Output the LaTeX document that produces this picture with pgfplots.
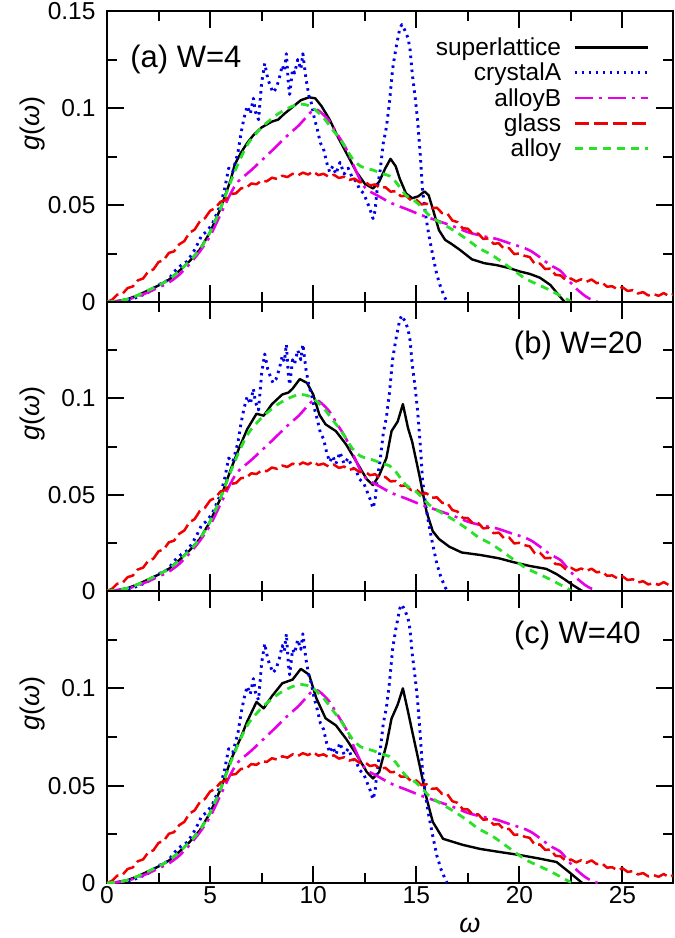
\documentclass[border=0pt]{standalone}
\usepackage{fontspec}
\setmainfont{Liberation Sans}
\usepackage{pgfplots}
\pgfplotsset{compat=1.18}
\usepackage{pgfplotstable}

\definecolor{cblue}{RGB}{0,0,235}
\definecolor{cmag}{RGB}{230,0,230}
\definecolor{cred}{RGB}{240,0,0}
\definecolor{cgreen}{RGB}{40,225,40}

\pgfplotstableread{
x y
0 0
0.5 0.0005
1 0.0015
1.5 0.0035
2 0.006
2.5 0.0085
3 0.0115
3.5 0.016
4 0.021
4.5 0.027
5 0.036
5.5 0.048
6 0.063
6.2 0.071
6.5 0.077
6.8 0.082
7.1 0.086
7.5 0.090
8 0.093
8.3 0.094
8.6 0.097
9 0.1005
9.4 0.104
9.8 0.1055
10.1 0.105
10.4 0.101
10.8 0.094
11.2 0.085
11.6 0.077
12.1 0.067
12.5 0.061
12.9 0.0585
13.2 0.062
13.5 0.069
13.75 0.0738
14.0 0.070
14.2 0.0635
14.5 0.056
14.8 0.0535
15.1 0.0545
15.4 0.057
15.6 0.055
15.8 0.048
16.1 0.037
16.4 0.032
16.7 0.030
17.1 0.027
17.7 0.022
18.3 0.020
18.9 0.019
19.5 0.0175
20 0.0158
20.5 0.0145
21 0.0125
21.5 0.0088
21.9 0.0036
22.2 0
}\slA

\pgfplotstableread{
x y
0 0
0.5 0.0005
1 0.0015
1.5 0.0035
2 0.006
2.5 0.0085
3 0.0115
3.5 0.016
4 0.021
4.5 0.027
5 0.036
5.5 0.048
6 0.063
6.4 0.074
6.8 0.084
7.25 0.092
7.6 0.091
8 0.097
8.5 0.102
8.8 0.103
9.0 0.105
9.35 0.110
9.7 0.108
10.0 0.102
10.3 0.0915
10.6 0.0865
11.1 0.083
11.6 0.076
12.1 0.067
12.6 0.058
12.9 0.055
13.2 0.060
13.55 0.069
13.8 0.083
14.1 0.088
14.35 0.097
14.6 0.0845
14.8 0.0775
15.15 0.060
15.5 0.041
15.8 0.031
16.1 0.027
16.6 0.023
17.2 0.020
18.1 0.0187
19 0.017
19.7 0.015
20.5 0.013
21.3 0.0115
21.8 0.0088
22.2 0.006
22.6 0.003
23.05 0
}\slB

\pgfplotstableread{
x y
0 0
0.5 0.0005
1 0.0015
1.5 0.0035
2 0.006
2.5 0.0085
3 0.0115
3.5 0.016
4 0.021
4.5 0.027
5 0.036
5.5 0.048
6 0.063
6.5 0.075
6.8 0.083
7.25 0.093
7.6 0.0897
8 0.096
8.5 0.1026
9.0 0.1045
9.4 0.110
9.8 0.107
10.15 0.095
10.6 0.0846
11.1 0.081
11.6 0.074
12.1 0.066
12.6 0.057
12.9 0.0537
13.2 0.057
13.55 0.071
13.8 0.0845
14.1 0.0917
14.35 0.100
14.6 0.088
14.8 0.078
15.15 0.061
15.5 0.0435
15.8 0.0314
16.3 0.0227
17.25 0.0196
18.1 0.0175
19 0.016
20 0.0144
21 0.0125
21.8 0.0108
22.4 0.0057
23.05 0
}\slC

\pgfplotstableread{
x y
0 0
0.5 0.0003
1 0.001
1.5 0.0025
2 0.005
2.5 0.009
2.8 0.010
3.0 0.012
3.3 0.016
3.6 0.019
3.9 0.021
4.2 0.026
4.4 0.030
4.6 0.0345
4.8 0.036
5.1 0.040
5.3 0.045
5.5 0.050
5.7 0.058
5.9 0.069
6.1 0.067
6.35 0.077
6.5 0.087
6.65 0.095
6.8 0.101
6.95 0.097
7.1 0.105
7.2 0.098
7.35 0.094
7.5 0.113
7.65 0.123
7.8 0.115
7.9 0.112
8.05 0.108
8.2 0.110
8.35 0.115
8.5 0.122
8.6 0.119
8.7 0.128
8.8 0.112
8.86 0.107
9.0 0.120
9.1 0.118
9.25 0.125
9.4 0.120
9.5 0.128
9.65 0.115
9.8 0.106
9.9 0.103
10.05 0.095
10.2 0.089
10.35 0.082
10.5 0.079
10.65 0.072
10.8 0.067
10.95 0.070
11.1 0.066
11.3 0.072
11.5 0.066
11.7 0.069
11.9 0.064
12.1 0.062
12.25 0.058
12.45 0.056
12.6 0.052
12.75 0.048
12.9 0.043
13.0 0.047
13.1 0.058
13.25 0.068
13.4 0.082
13.55 0.090
13.7 0.103
13.85 0.120
14.0 0.130
14.2 0.141
14.3 0.143
14.45 0.140
14.6 0.136
14.7 0.130
14.8 0.118
14.95 0.105
15.06 0.094
15.2 0.075
15.3 0.058
15.45 0.045
15.6 0.035
15.8 0.024
16.0 0.014
16.2 0.007
16.4 0.002
16.5 0
}\crystalA

\pgfplotstableread{
x y
0 0
0.5 0.0004
1 0.0012
1.5 0.003
2 0.005
2.5 0.0075
3 0.010
3.5 0.014
4 0.0195
4.5 0.026
5 0.034
5.5 0.045
6 0.056
6.35 0.062
7 0.068
7.5 0.073
8 0.078
8.77 0.086
9.3 0.091
9.9 0.098
10.2 0.099
10.5 0.0965
10.8 0.093
11.2 0.086
11.6 0.079
12.25 0.0635
12.6 0.058
13.1 0.055
13.6 0.052
14.0 0.050
14.5 0.048
15.2 0.045
16 0.042
16.8 0.039
17.5 0.036
18.2 0.034
18.9 0.0325
19.6 0.030
20.2 0.028
20.6 0.026
21 0.023
21.5 0.019
22 0.016
22.4 0.011
22.8 0.0065
23.2 0.003
23.5 0.0012
23.8 0
}\alloyB

\pgfplotstableread{
x y
0 0
0.25 0.0012
0.5 0.0038
0.75 0.0042
1 0.0072
1.25 0.0080
1.5 0.0112
1.75 0.0121
2 0.0157
2.25 0.0168
2.5 0.0206
2.75 0.0216
3 0.0253
3.25 0.0261
3.5 0.0297
3.75 0.0314
4 0.0357
4.25 0.0373
4.5 0.0415
4.75 0.0432
5 0.0470
5.25 0.0484
5.5 0.0516
5.75 0.0526
6 0.0556
6.25 0.0560
6.5 0.0586
6.75 0.0588
7 0.0611
7.25 0.0607
7.5 0.0626
7.75 0.0622
8 0.0641
8.25 0.0634
8.5 0.0651
8.75 0.0644
9 0.0661
9.25 0.0652
9.5 0.0667
9.75 0.0657
10 0.0672
10.25 0.0654
10.5 0.0661
10.75 0.0646
11 0.0656
11.25 0.0639
11.5 0.0646
11.75 0.0629
12 0.0636
12.25 0.0617
12.5 0.0621
12.75 0.0601
13 0.0606
13.25 0.0587
13.5 0.0592
13.75 0.0569
14 0.0571
14.25 0.0546
14.5 0.0547
14.75 0.0524
15 0.0527
15.25 0.0503
15.5 0.0507
15.75 0.0484
16 0.0486
16.25 0.0458
16.5 0.0457
16.75 0.0420
17 0.0412
17.25 0.0380
17.5 0.0378
17.75 0.0350
18 0.0353
18.25 0.0325
18.5 0.0328
18.75 0.0300
19 0.0303
19.25 0.0275
19.5 0.0278
19.75 0.0247
20 0.0250
20.25 0.0238
20.5 0.0232
20.75 0.0196
21 0.0198
21.25 0.0170
21.5 0.0172
21.75 0.0140
22 0.0137
22.25 0.0113
22.5 0.0121
22.75 0.0106
23 0.0117
23.25 0.0104
23.5 0.0116
23.75 0.0097
24 0.0101
24.25 0.0079
24.5 0.0081
24.75 0.0066
25 0.0076
25.25 0.0057
25.5 0.0061
25.75 0.0044
26 0.0051
26.25 0.0034
26.5 0.0041
26.75 0.0032
27 0.0046
27.25 0.0031
27.45 0.0039
}\glass

\pgfplotstableread{
x y
0 0
0.5 0.0005
1 0.0015
1.5 0.0035
2 0.006
2.5 0.0085
3 0.0115
3.5 0.016
4 0.021
4.5 0.027
5 0.036
5.5 0.048
6 0.062
6.35 0.071
6.7 0.079
7 0.084
7.6 0.091
8.3 0.097
8.8 0.100
9.3 0.102
9.7 0.1015
10 0.100
10.5 0.095
11 0.088
11.3 0.084
11.6 0.079
11.9 0.074
12.3 0.070
12.9 0.068
13.4 0.066
13.7 0.065
14.0 0.062
14.5 0.055
15 0.0515
15.6 0.045
16 0.042
16.8 0.037
17.5 0.032
18 0.028
18.7 0.024
19.5 0.018
20.3 0.012
21 0.0085
21.5 0.006
22.1 0.0026
22.5 0.0003
}\alloy

\pgfplotsset{
  panel/.style={
    scale only axis, width=566pt,
    xmin=0, xmax=27.45, ymin=0, ymax=0.15,
    xtick={0,5,10,15,20,25}, ytick={0,0.05,0.1,0.15},
    minor x tick num=1, minor y tick num=1,
    tick align=inside,
    major tick length=17pt, minor tick length=10pt,
    axis line style={line width=2.1pt},
    every tick/.append style={line width=2pt, black},
    tick label style={font=\fontsize{24.5}{26}\selectfont},
    /pgf/number format/assume math mode=true,
    yticklabel style={xshift=-8pt},
    ylabel={\itshape g\upshape(\itshape ω\upshape)},
    ylabel style={at={(rel axis cs:-0.131,0.615)}, anchor=center, rotate=0,
      font=\fontsize{27}{28}\selectfont},
    clip=true,
  },
  sl/.style={black, line width=2.4pt, line join=round},
  ca/.style={cblue, line width=2.9pt, line join=round, dash pattern=on 2.5pt off 4.5pt},
  ab/.style={cmag, line width=2.6pt, line join=round, smooth, tension=0.4, dash pattern=on 18pt off 6pt on 3pt off 6pt},
  gl/.style={cred, line width=2.5pt, line join=round, dash pattern=on 14pt off 5pt},
  al/.style={cgreen, line width=2.8pt, line join=round, smooth, tension=0.4, dash pattern=on 8pt off 6pt},
}

\begin{document}
\begin{tikzpicture}
\path[use as bounding box] (-107pt,11pt) rectangle (568pt,-927pt);

% panel (a)
\begin{axis}[panel, at={(0pt,0pt)}, anchor=north west, height=291pt,
  xticklabels={},
  yticklabels={0,0.05,0.1,0.15},
  legend style={at={(rel axis cs:0.958,0.915)}, anchor=north east,
    draw=none, fill=none, font=\fontsize{24.5}{26}\selectfont,
    row sep=2pt, inner sep=0pt, column sep=10pt},
  legend cell align=right, legend plot pos=right,
  legend image code/.code={\draw[#1] (0pt,0pt) -- (73pt,0pt);},
]
\addplot[sl] table[x=x,y=y] {\slA}; \addlegendentry{superlattice}
\addplot[ca] table[x=x,y=y] {\crystalA}; \addlegendentry{crystalA}
\addplot[ab] table[x=x,y=y] {\alloyB}; \addlegendentry{alloyB}
\addplot[gl] table[x=x,y=y] {\glass}; \addlegendentry{glass}
\addplot[al] table[x=x,y=y] {\alloy}; \addlegendentry{alloy}
\node[anchor=west, font=\fontsize{31}{33}\selectfont] at (rel axis cs:0.035,0.835) {(a) W=4};
\end{axis}

% panel (b)
\begin{axis}[panel, at={(0pt,-291pt)}, anchor=north west, height=289pt,
  xticklabels={},
  yticklabels={0,0.05,0.1,{}},
]
\addplot[sl] table[x=x,y=y] {\slB};
\addplot[ca] table[x=x,y=y] {\crystalA};
\addplot[ab] table[x=x,y=y] {\alloyB};
\addplot[gl] table[x=x,y=y] {\glass};
\addplot[al] table[x=x,y=y] {\alloy};
\node[anchor=east, font=\fontsize{31}{33}\selectfont] at (rel axis cs:0.952,0.851) {(b) W=20};
\end{axis}

% panel (c)
\begin{axis}[panel, at={(0pt,-580pt)}, anchor=north west, height=292pt,
  xticklabels={0,5,10,15,20,25},
  yticklabels={0,0.05,0.1,{}},
  xlabel={\itshape ω},
  xlabel style={at={(rel axis cs:0.641,0)}, anchor=center, yshift=-42pt,
    font=\fontsize{27}{28}\selectfont},
]
\addplot[sl] table[x=x,y=y] {\slC};
\addplot[ca] table[x=x,y=y] {\crystalA};
\addplot[ab] table[x=x,y=y] {\alloyB};
\addplot[gl] table[x=x,y=y] {\glass};
\addplot[al] table[x=x,y=y] {\alloy};
\node[anchor=east, font=\fontsize{31}{33}\selectfont] at (rel axis cs:0.949,0.849) {(c) W=40};
\end{axis}
\end{tikzpicture}
\end{document}
